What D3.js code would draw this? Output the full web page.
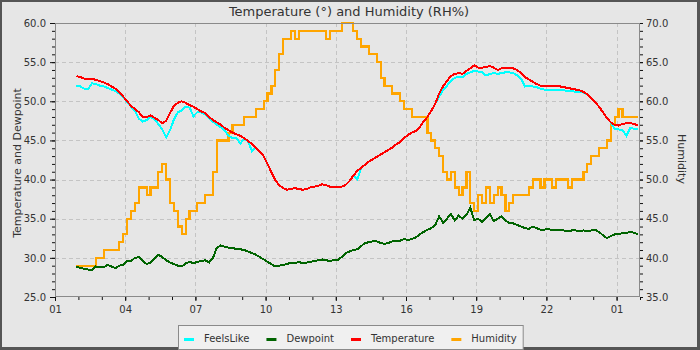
<!DOCTYPE html>
<html>
<head>
<meta charset="utf-8">
<script src="https://cdn.jsdelivr.net/npm/d3@7"></script>
<style>
  body { margin: 0; background: #ffffff; }
  svg { display: block; font-family: "DejaVu Sans", sans-serif; }
</style>
</head>
<body>
<svg id="chart" width="700" height="350"></svg>
<script>
// Readings every 10 minutes, starting 01:55
const sampleStart = new Date(2024, 0, 1, 1, 55);
const sampleStepMinutes = 10;

const temperature = [
  53.2,53.1,52.9,52.9,52.9,52.7,52.6,52.4,52.2,51.9,
  51.6,51.1,50.6,50.0,49.4,49.0,48.6,48.0,48.0,48.2,
  47.9,47.6,47.2,47.5,48.5,49.4,49.8,50.0,49.8,49.5,
  49.3,49.0,48.7,48.5,48.0,47.6,47.3,47.0,46.6,46.3,
  46.0,45.8,45.6,45.3,44.9,44.6,44.1,43.6,43.0,42.0,
  40.9,39.9,39.3,38.9,38.7,38.8,38.9,38.8,38.7,38.8,
  39.0,39.1,39.2,39.4,39.3,39.1,39.1,39.0,39.1,39.3,
  39.8,40.5,41.1,41.5,41.9,42.3,42.6,42.9,43.2,43.5,
  43.8,44.1,44.5,44.8,45.3,45.7,46.0,46.2,46.7,47.4,
  48.0,48.8,49.7,51.0,51.9,52.6,53.2,53.5,53.6,53.5,
  53.9,54.2,54.6,54.3,54.3,54.4,54.5,54.3,54.0,54.2,
  54.3,54.3,54.2,54.0,53.6,53.1,52.8,52.5,52.2,52.0,
  51.9,51.9,51.9,51.9,51.9,51.8,51.7,51.6,51.5,51.4,
  51.2,50.9,50.4,49.9,49.3,48.6,47.9,47.3,47.0,46.9,
  47.1,47.2,47.2,47.1,46.9
];

const feelsLike = [
  52.0,51.9,51.6,51.6,52.3,52.2,52.0,51.9,51.7,51.5,
  51.3,51.0,50.5,49.9,49.3,48.8,47.8,47.4,47.6,48.0,
  47.7,47.1,46.4,45.4,46.3,47.7,48.6,48.8,49.3,49.2,
  48.1,48.6,48.6,48.3,47.9,47.4,47.0,46.7,46.3,45.6,
  45.3,45.3,44.6,45.2,44.9,43.6,44.1,43.6,43.0,42.0,
  40.9,39.9,39.3,38.9,38.7,38.8,38.9,38.8,38.7,38.8,
  39.0,39.1,39.2,39.4,39.3,39.1,39.1,39.0,39.1,39.3,
  39.8,40.5,40.0,41.5,41.9,42.3,42.6,42.9,43.2,43.5,
  43.8,44.1,44.5,44.8,45.3,45.7,46.0,46.2,46.7,47.4,
  48.0,48.8,49.7,50.6,51.4,52.0,52.6,53.0,53.1,53.1,
  53.5,53.7,53.9,53.8,53.7,53.3,53.5,53.6,53.5,53.6,
  53.7,53.7,53.6,53.3,52.9,51.9,52.0,51.9,51.8,51.6,
  51.5,51.5,51.5,51.5,51.5,51.4,51.3,51.3,51.2,51.2,
  51.1,50.9,50.4,49.9,49.3,48.6,47.9,47.3,46.5,46.4,
  46.3,45.6,46.6,46.5,46.4
];

const dewpoint = [
  28.9,28.7,28.6,28.5,28.4,28.9,28.8,28.8,29.1,28.9,
  28.7,29.0,29.1,29.6,29.6,30.0,30.1,29.6,29.2,29.4,
  29.9,30.4,30.1,29.7,29.4,29.2,29.0,28.9,29.3,29.5,
  29.3,29.5,29.6,29.7,29.4,30.0,31.3,31.6,31.4,31.3,
  31.3,31.1,31.1,31.0,30.8,30.6,30.4,30.1,29.8,29.5,
  29.2,28.9,29.0,29.1,29.2,29.4,29.3,29.5,29.3,29.4,
  29.5,29.6,29.7,29.8,29.7,29.6,29.7,29.7,30.1,30.6,
  30.8,31.0,31.1,31.5,31.9,32.0,32.1,32.1,31.9,31.8,
  31.9,32.1,32.2,32.2,32.4,32.3,32.4,32.6,33.0,33.3,
  33.6,33.8,34.2,35.3,34.5,35.0,35.6,34.8,35.4,35.0,
  35.5,36.4,34.8,35.0,34.6,35.1,35.6,34.7,35.0,35.3,
  34.8,34.4,34.4,34.2,34.0,33.8,33.7,34.0,33.8,33.6,
  33.6,33.7,33.5,33.6,33.5,33.5,33.4,33.5,33.5,33.4,
  33.5,33.4,33.5,33.6,33.3,32.9,32.5,32.8,33.0,33.0,
  33.2,33.2,33.3,33.2,33.0
];

const humidity = [
  39,39,39,39,39,40,40,41,41,41,
  41,42,43,45,46,47,49,49,48,49,
  49,51,52,50,47,46,44,43,45,46,
  46,47,47,48,48,51,55,55,55,56,
  57,57,57,58,58,58,59,59,60,61,
  62,64,66,68,68,69,68,69,69,69,
  69,69,69,69,68,69,69,69,70,70,
  70,69,68,67,67,66,66,65,63,62,
  62,61,61,60,59,59,58,58,58,58,
  56,55,54,53,51,50,51,49,48,49,
  51,47,46,48,47,49,47,48,49,48,
  46,47,48,48,48,48,49,50,50,49,
  50,50,49,50,50,50,49,50,50,50,
  51,52,53,53,54,54,55,57,58,59,
  58,58,58,58,58
];

const hourTickLabels = ["01", "04", "07", "10", "13", "16", "19", "22", "01"];
const leftTickValues = [25, 30, 35, 40, 45, 50, 55, 60];
const rightTickValues = [35, 40, 45, 50, 55, 60, 65, 70];
const seriesNames = ["FeelsLike", "Dewpoint", "Temperature", "Humidity"];
const seriesColors = ["#00ffff", "#006400", "#ff0000", "#ffa500"];

const W = 700, H = 350;
const plot = { left: 55, right: 640, top: 23, bottom: 297 };
const textColor = "#333333";
const fontSmall = 10;

const svg = d3.select("#chart");

// frame and background
svg.append("rect").attr("width", W).attr("height", H).attr("fill", "#555555");
svg.append("rect").attr("x", 2).attr("y", 2).attr("width", 695).attr("height", 345).attr("fill", "#e6e6e6");

const axisStart = new Date(2024, 0, 1, 1, 0);
const axisEnd = new Date(2024, 0, 2, 2, 0);
const x = d3.scaleTime().domain([axisStart, axisEnd]).range([plot.left, plot.right]);
const yL = d3.scaleLinear().domain([25, 60]).range([plot.bottom, plot.top]);
const yR = d3.scaleLinear().domain([35, 70]).range([plot.bottom, plot.top]);

const times = temperature.map((_, i) => d3.timeMinute.offset(sampleStart, i * sampleStepMinutes));
const majorDates = hourTickLabels.map((_, i) => d3.timeHour.offset(axisStart, i * 3));
const minorDates = d3.timeHour.range(axisStart, d3.timeHour.offset(axisEnd, 1));

// grid
const grid = svg.append("g").attr("stroke", "#c4c4c4").attr("stroke-width", 1).attr("stroke-dasharray", "4,3");
leftTickValues.filter(v => v > 25 && v < 60).forEach(v => {
  grid.append("line").attr("x1", plot.left).attr("x2", plot.right)
    .attr("y1", Math.round(yL(v)) + 0.5).attr("y2", Math.round(yL(v)) + 0.5);
});
majorDates.slice(1).forEach(d => {
  grid.append("line").attr("y1", plot.top).attr("y2", plot.bottom)
    .attr("x1", Math.round(x(d)) + 0.5).attr("x2", Math.round(x(d)) + 0.5);
});

// series (drawn without anti-aliasing for a crisp pixel look)
svg.append("clipPath").attr("id", "plotClip").append("rect")
  .attr("x", plot.left).attr("y", plot.top - 1)
  .attr("width", plot.right - plot.left).attr("height", plot.bottom - plot.top + 1);
const lines = svg.append("g").attr("clip-path", "url(#plotClip)").attr("fill", "none")
  .attr("stroke-width", 2).attr("stroke-linejoin", "miter").attr("shape-rendering", "crispEdges");

const stepLine = d3.line().curve(d3.curveStepAfter).x((d, i) => x(times[i])).y(d => yR(d));
const leftLine = d3.line().x((d, i) => x(times[i])).y(d => yL(d));

lines.append("path").attr("d", stepLine(humidity)).attr("stroke", seriesColors[3]).attr("stroke-width", 2.2);
lines.append("path").attr("d", leftLine(feelsLike)).attr("stroke", seriesColors[0]);
lines.append("path").attr("d", leftLine(dewpoint)).attr("stroke", seriesColors[1]);
lines.append("path").attr("d", leftLine(temperature)).attr("stroke", seriesColors[2]);

// plot border
svg.append("rect").attr("x", plot.left + 0.5).attr("y", plot.top + 0.5)
  .attr("width", plot.right - plot.left - 1).attr("height", plot.bottom - plot.top - 1)
  .attr("fill", "none").attr("stroke", "#8a8a8a");

function styleAxis(g) {
  g.select(".domain").remove();
  g.selectAll(".tick line").attr("stroke", "#111111");
  g.selectAll(".tick text").attr("fill", textColor)
    .attr("font-size", fontSmall).attr("font-family", "DejaVu Sans, sans-serif");
}

// x axis
const fmtHour = (d, i) => hourTickLabels[i];
svg.append("g").attr("transform", `translate(0,${plot.bottom})`)
  .call(d3.axisBottom(x).tickValues(minorDates).tickSize(3).tickFormat(""))
  .call(styleAxis);
svg.append("g").attr("transform", `translate(0,${plot.bottom})`)
  .call(d3.axisBottom(x).tickValues(majorDates).tickSize(4).tickPadding(5).tickFormat(fmtHour))
  .call(styleAxis);

// left axis
const minorLeft = d3.range(25, 60.01, 1);
svg.append("g").attr("transform", `translate(${plot.left},0)`)
  .call(d3.axisLeft(yL).tickValues(minorLeft).tickSize(3).tickFormat(""))
  .call(styleAxis);
svg.append("g").attr("transform", `translate(${plot.left},0)`)
  .call(d3.axisLeft(yL).tickValues(leftTickValues).tickSize(5).tickPadding(4).tickFormat(d3.format(".1f")))
  .call(styleAxis);

// right axis
const minorRight = d3.range(35, 70.01, 1);
svg.append("g").attr("transform", `translate(${plot.right},0)`)
  .call(d3.axisRight(yR).tickValues(minorRight).tickSize(3).tickFormat(""))
  .call(styleAxis);
svg.append("g").attr("transform", `translate(${plot.right},0)`)
  .call(d3.axisRight(yR).tickValues(rightTickValues).tickSize(3).tickPadding(3).tickFormat(d3.format(".1f")))
  .call(styleAxis);

// title and axis titles
svg.append("text").attr("x", 349).attr("y", 15.5).attr("text-anchor", "middle")
  .attr("font-size", 13).attr("fill", textColor).text("Temperature (°) and Humidity (RH%)");
svg.append("text").attr("transform", "translate(20.5,163) rotate(-90)").attr("text-anchor", "middle")
  .attr("font-size", 11).attr("fill", textColor).text("Temperature and Dewpoint");
svg.append("text").attr("transform", "translate(678,159) rotate(90)").attr("text-anchor", "middle")
  .attr("font-size", 11).attr("fill", textColor).text("Humidity");

// legend
const legend = svg.append("g");
const legendBox = legend.append("rect").attr("fill", "#f0f0f0").attr("stroke", "#8a8a8a");
let cursor = 0;
seriesNames.forEach((name, i) => {
  const g = legend.append("g").attr("class", "legend-item");
  g.append("line").attr("x1", 6).attr("x2", 16).attr("y1", 339.5).attr("y2", 339.5)
    .attr("stroke", seriesColors[i]).attr("stroke-width", 3);
  const t = g.append("text").attr("x", 26).attr("y", 341.5).attr("font-size", fontSmall)
    .attr("fill", textColor).text(name);
  const w = t.node().getComputedTextLength();
  g.attr("data-offset", cursor);
  cursor += 26 + w + 11;
});
const legendWidth = cursor - 11 + 6;
const legendX = Math.round(350 - legendWidth / 2);
legend.selectAll("g.legend-item").each(function () {
  const dx = +d3.select(this).attr("data-offset");
  d3.select(this).attr("transform", `translate(${dx + legendX},0)`);
});
legendBox.attr("x", legendX + 0.5).attr("y", 325.5).attr("width", legendWidth).attr("height", 24);
</script>
</body>
</html>
